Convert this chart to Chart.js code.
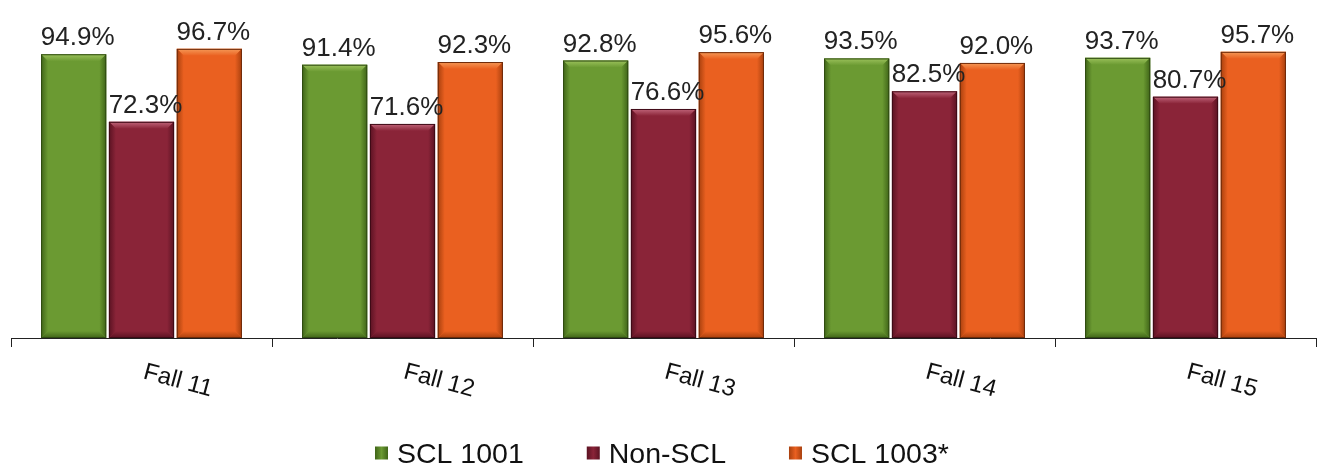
<!DOCTYPE html>
<html>
<head>
<meta charset="utf-8">
<script src="https://cdn.jsdelivr.net/npm/chart.js@4.4.1/dist/chart.umd.min.js"></script>
<style>
  html, body { margin: 0; padding: 0; background: #ffffff; }
  #wrap { width: 1319px; height: 468px; }
</style>
</head>
<body>
<div id="wrap"><canvas id="c" width="1319" height="468"></canvas></div>
<script>
// Terms shown along the x axis
const terms = ['Fall 11', 'Fall 12', 'Fall 13', 'Fall 14', 'Fall 15'];

// Percent values per group
const scl1001 = [94.9, 91.4, 92.8, 93.5, 93.7];
const nonScl  = [72.3, 71.6, 76.6, 82.5, 80.7];
const scl1003 = [96.7, 92.3, 95.6, 92.0, 95.7];

const seriesNames = ['SCL 1001', 'Non-SCL', 'SCL 1003*'];

// Face, light bevel, dark bevel colours for each series
const palette = [
  { face: '#6b9a32', light: '#9cc25c', dark: '#3f6418', edge: '#2f4a12' },
  { face: '#8a2438', light: '#c0657a', dark: '#5a1222', edge: '#3e0a16' },
  { face: '#ea6020', light: '#f59a58', dark: '#a8400e', edge: '#6e2a0a' }
];

const FONT = '"Liberation Sans", Arial, sans-serif';

// Draws the chamfered edges on each bar
const bevelPlugin = {
  id: 'bevel',
  afterDatasetsDraw(chart) {
    const ctx = chart.ctx;
    chart.data.datasets.forEach((ds, di) => {
      const meta = chart.getDatasetMeta(di);
      const pal = palette[di];
      meta.data.forEach(el => {
        const p = el.getProps(['x', 'y', 'base', 'width'], true);
        const l = p.x - p.width / 2, r = p.x + p.width / 2;
        const t = p.y, b = p.base;
        const bv = 7;
        ctx.save();
        // top chamfer
        let g = ctx.createLinearGradient(0, t, 0, t + bv);
        g.addColorStop(0, pal.light);
        g.addColorStop(1, pal.face);
        ctx.fillStyle = g;
        ctx.beginPath();
        ctx.moveTo(l, t); ctx.lineTo(r, t); ctx.lineTo(r - bv, t + bv); ctx.lineTo(l + bv, t + bv);
        ctx.closePath(); ctx.fill();
        // left chamfer
        g = ctx.createLinearGradient(l, 0, l + bv, 0);
        g.addColorStop(0, pal.dark);
        g.addColorStop(1, pal.face);
        ctx.fillStyle = g;
        ctx.beginPath();
        ctx.moveTo(l, t); ctx.lineTo(l + bv, t + bv); ctx.lineTo(l + bv, b - bv); ctx.lineTo(l, b);
        ctx.closePath(); ctx.fill();
        // right chamfer
        g = ctx.createLinearGradient(r - bv, 0, r, 0);
        g.addColorStop(0, pal.face);
        g.addColorStop(1, pal.dark);
        ctx.fillStyle = g;
        ctx.beginPath();
        ctx.moveTo(r, t); ctx.lineTo(r, b); ctx.lineTo(r - bv, b - bv); ctx.lineTo(r - bv, t + bv);
        ctx.closePath(); ctx.fill();
        // bottom chamfer
        g = ctx.createLinearGradient(0, b - bv, 0, b);
        g.addColorStop(0, pal.face);
        g.addColorStop(1, pal.dark);
        ctx.fillStyle = g;
        ctx.beginPath();
        ctx.moveTo(l, b); ctx.lineTo(l + bv, b - bv); ctx.lineTo(r - bv, b - bv); ctx.lineTo(r, b);
        ctx.closePath(); ctx.fill();
        // outline
        ctx.strokeStyle = pal.edge;
        ctx.lineWidth = 1;
        ctx.strokeRect(l + 0.5, t + 0.5, p.width - 1, b - t - 1);
        ctx.restore();
      });
    });
  }
};

// Percent labels above each bar
const valueLabelPlugin = {
  id: 'valueLabels',
  afterDatasetsDraw(chart) {
    const ctx = chart.ctx;
    ctx.save();
    ctx.font = '26px ' + FONT;
    ctx.fillStyle = '#222222';
    ctx.textAlign = 'center';
    ctx.textBaseline = 'alphabetic';
    chart.data.datasets.forEach((ds, di) => {
      const meta = chart.getDatasetMeta(di);
      meta.data.forEach((el, i) => {
        const v = ds.data[i];
        ctx.fillText(v.toFixed(1) + '%', el.x + 4, el.y - 9);
      });
    });
    ctx.restore();
  }
};

// Slanted category labels under the axis
const termLabelPlugin = {
  id: 'termLabels',
  afterDraw(chart) {
    const ctx = chart.ctx;
    const xs = chart.scales.x;
    const size = 24;
    ctx.save();
    ctx.font = size + 'px ' + FONT;
    ctx.fillStyle = '#111111';
    ctx.textAlign = 'center';
    ctx.textBaseline = 'alphabetic';
    chart.data.labels.forEach((lab, i) => {
      const cx = xs.getPixelForValue(i) + 37;
      const cy = xs.top + 41;
      ctx.save();
      ctx.translate(cx, cy);
      ctx.rotate(15 * Math.PI / 180);
      ctx.fillText(lab, 0, size * 0.358);
      ctx.restore();
    });
    ctx.restore();
  }
};

// Legend row under the chart
const legendPlugin = {
  id: 'legendRow',
  afterDraw(chart) {
    const ctx = chart.ctx;
    const size = 28.5;
    const box = 13;
    const gapText = 9;
    const spacing = 63;
    const cy = 453;
    ctx.save();
    ctx.font = size + 'px ' + FONT;
    ctx.textBaseline = 'alphabetic';
    ctx.textAlign = 'left';
    let x = 375;
    chart.data.datasets.forEach((ds, di) => {
      const pal = palette[di];
      const g = ctx.createLinearGradient(x, 0, x + box, 0);
      g.addColorStop(0, pal.dark);
      g.addColorStop(0.5, pal.face);
      g.addColorStop(1, pal.dark);
      ctx.fillStyle = g;
      ctx.fillRect(x, cy - box / 2, box, box);
      ctx.fillStyle = '#111111';
      ctx.fillText(ds.label, x + box + gapText, cy + size * 0.358);
      x += box + gapText + ctx.measureText(ds.label).width + spacing;
    });
    ctx.restore();
  }
};

const chart = new Chart(document.getElementById('c'), {
  type: 'bar',
  data: {
    labels: terms,
    datasets: [
      { label: seriesNames[0], data: scl1001, backgroundColor: palette[0].face },
      { label: seriesNames[1], data: nonScl,  backgroundColor: palette[1].face },
      { label: seriesNames[2], data: scl1003, backgroundColor: palette[2].face }
    ]
  },
  options: {
    responsive: false,
    animation: false,
    events: [],
    layout: { padding: { top: 39, left: 11, right: 3, bottom: 0 } },
    datasets: {
      bar: { categoryPercentage: 0.78, barPercentage: 0.96, borderWidth: 0 }
    },
    plugins: {
      legend: { display: false },
      tooltip: { enabled: false },
      title: { display: false }
    },
    scales: {
      y: {
        display: false,
        min: 0,
        max: 100
      },
      x: {
        offset: true,
        border: { display: true, color: '#222222', width: 1 },
        grid: {
          offset: true,
          drawOnChartArea: false,
          drawTicks: true,
          tickLength: 9,
          color: '#222222',
          lineWidth: 1
        },
        ticks: { display: false },
        afterFit(scale) { scale.height = 130; }
      }
    }
  },
  plugins: [bevelPlugin, valueLabelPlugin, termLabelPlugin, legendPlugin]
});
</script>
</body>
</html>
